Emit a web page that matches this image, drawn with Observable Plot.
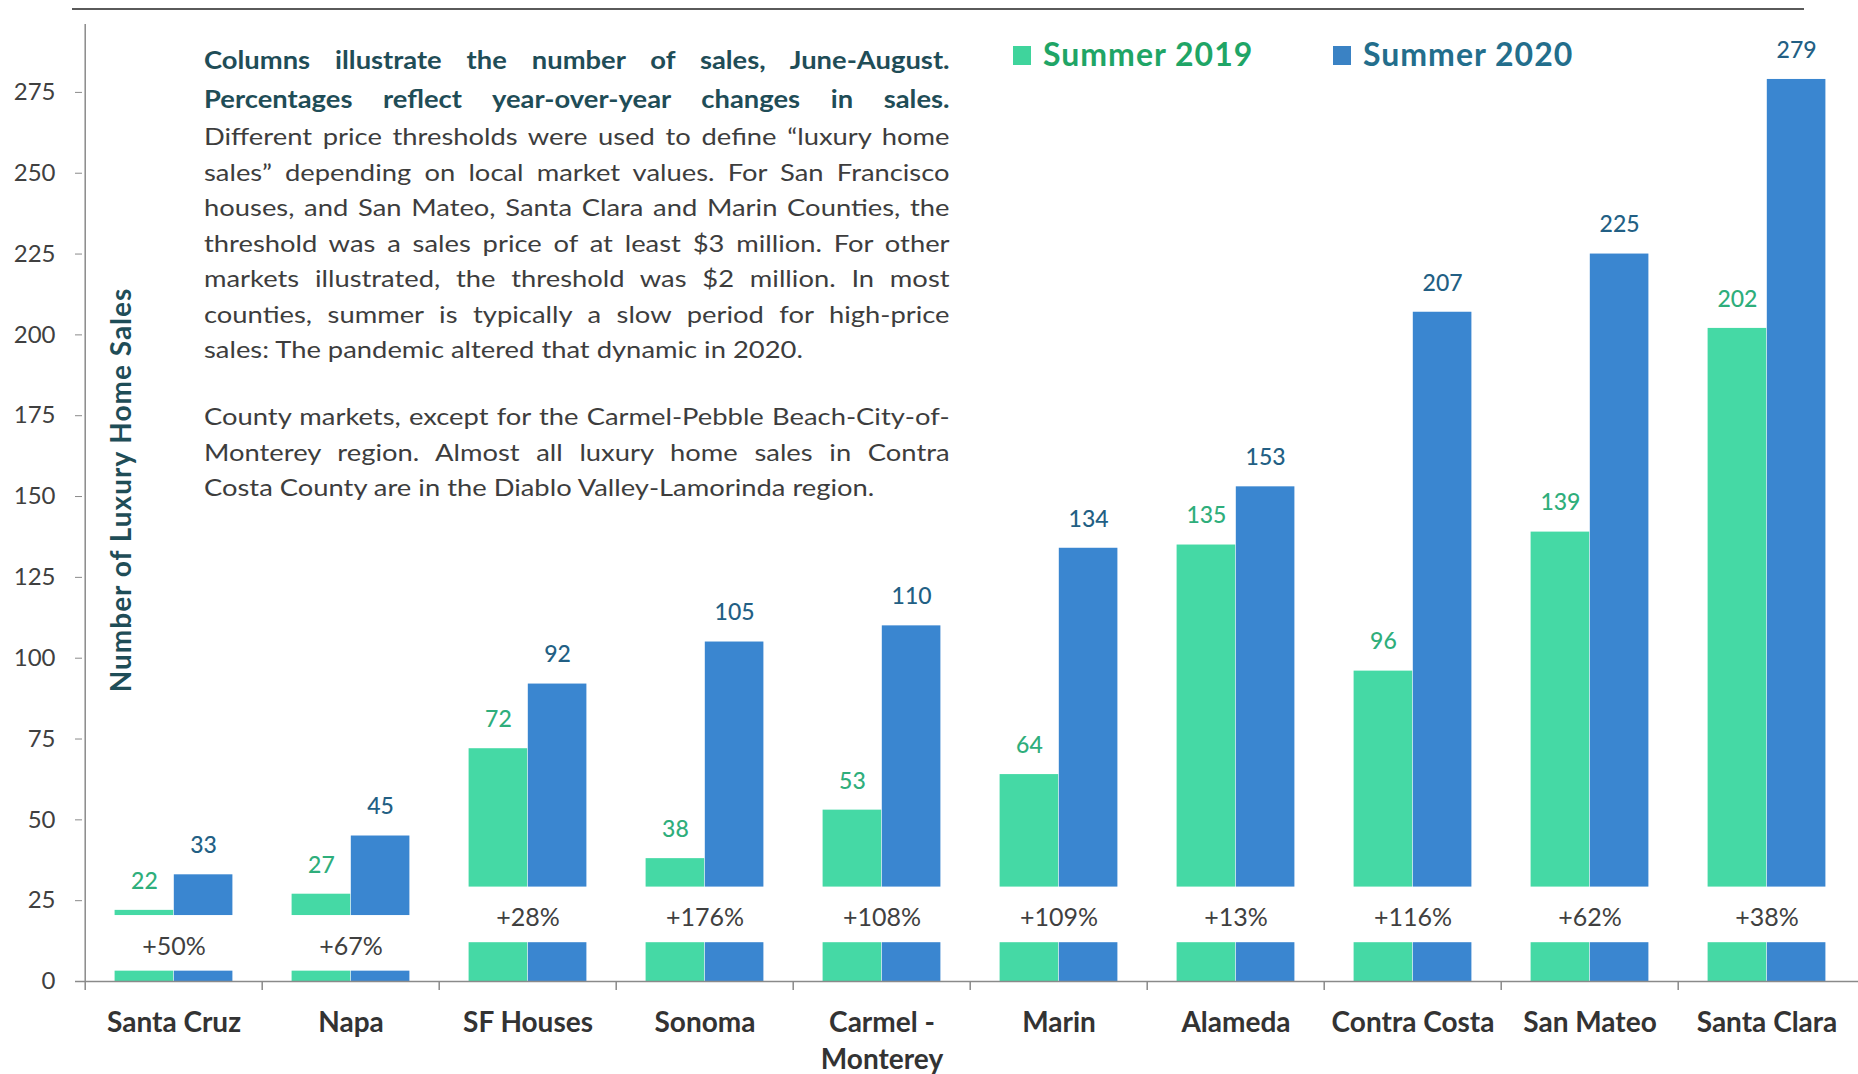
<!DOCTYPE html>
<html>
<head>
<meta charset="utf-8">
<script src="https://cdn.jsdelivr.net/npm/d3@7"></script>
<script src="https://cdn.jsdelivr.net/npm/@observablehq/plot@0.6"></script>
<style>
  body { margin: 0; background: #fff; font-family: Lato, "Open Sans", sans-serif; }
  #wrap { position: relative; width: 1858px; height: 1074px; overflow: hidden; background: #fff; }
  #chart { position: absolute; left: 0; top: 0; }
  .topline { position: absolute; left: 72px; top: 8px; width: 1732px; height: 0; border-top: 2px solid #5a5a5a; }
  .note { position: absolute; left: 204px; top: 40px; width: 654px; font-size: 24px; color: #3d3d3d;
          transform: scaleX(1.14); transform-origin: 0 0; }
  .note div { white-space: nowrap; text-align: justify; text-align-last: justify; line-height: 35.5px; height: 35.5px; }
  .note div.b { font-weight: 700; color: #1f4d57; line-height: 39px; height: 39px; }
  .note div.last { text-align-last: left; }
  .note div.gap { height: 31.75px; }
  .legend { position: absolute; top: 34px; font-size: 32px; font-weight: 700; line-height: 40px; letter-spacing: 1px; white-space: nowrap; }
  .legend .sw { position: absolute; top: 12px; width: 18px; height: 19px; }
  .ytitle { position: absolute; left: 120px; top: 490px; transform: translate(-50%, -50%) rotate(-90deg);
            font-size: 28px; font-weight: 700; color: #1f4d57; letter-spacing: 1px; white-space: nowrap; }
</style>
</head>
<body>
<div id="wrap"></div>
<script>
// ---- data ----
const categories = ["Santa Cruz", "Napa", "SF Houses", "Sonoma", "Carmel - Monterey", "Marin", "Alameda", "Contra Costa", "San Mateo", "Santa Clara"];
const sales2019 = [22, 27, 72, 38, 53, 64, 135, 96, 139, 202];
const sales2020 = [33, 45, 92, 105, 110, 134, 153, 207, 225, 279];
const pctChange = ["+50%", "+67%", "+28%", "+176%", "+108%", "+109%", "+13%", "+116%", "+62%", "+38%"];
// visual break in the columns where the percentage label sits
const breakLow  = [3.2, 3.2, 12, 12, 12, 12, 12, 12, 12, 12];
const breakHigh = [20.4, 20.4, 29.2, 29.2, 29.2, 29.2, 29.2, 29.2, 29.2, 29.2];
const pctLabelAt = [10.8, 10.8, 19.5, 19.5, 19.5, 19.5, 19.5, 19.5, 19.5, 19.5];
const yTicks = [0, 25, 50, 75, 100, 125, 150, 175, 200, 225, 250, 275];
const seriesNames = ["Summer 2019", "Summer 2020"];
const yTitle = "Number of Luxury Home Sales";
const noteBoldLines = [
  "Columns illustrate the number of sales, June-August.",
  "Percentages reflect year-over-year changes in sales."
];
const notePara1 = [
  "Different price thresholds were used to define \u201cluxury home",
  "sales\u201d depending on local market values. For San Francisco",
  "houses, and San Mateo, Santa Clara and Marin Counties, the",
  "threshold was a sales price of at least $3 million. For other",
  "markets illustrated, the threshold was $2 million. In most",
  "counties, summer is typically a slow period for high-price",
  "sales: The pandemic altered that dynamic in 2020."
];
const notePara2 = [
  "County markets, except for the Carmel-Pebble Beach-City-of-",
  "Monterey region. Almost all luxury home sales in Contra",
  "Costa County are in the Diablo Valley-Lamorinda region."
];

// ---- styles ----
const GREEN = "#45d9a5", BLUE = "#3a86d0";
const GREEN_TXT = "#2eae7b", BLUE_TXT = "#225f84";
const W = 1858, H = 1074, ML = 82, MR = 0, MT = 24, MB = 93;
const bw = (W - ML - MR) / categories.length;

const rows = categories.map((c, i) => ({
  cat: c, v19: sales2019[i], v20: sales2020[i], lo: breakLow[i], hi: breakHigh[i], pct: pctChange[i], py: pctLabelAt[i]
}));

const chart = Plot.plot({
  width: W, height: H,
  marginLeft: ML, marginRight: MR, marginTop: MT, marginBottom: MB,
  style: { fontFamily: "Lato, 'Open Sans', sans-serif", background: "transparent", overflow: "visible" },
  x: { domain: categories, padding: 0, axis: null },
  y: { domain: [0, 296] },
  marks: [
    // y axis line and ticks
    Plot.ruleX([categories[0]], { x: d => d, dx: -bw / 2, y1: 0, y2: 296, stroke: "#8a8a8a", strokeWidth: 1.5 }),
    Plot.axisY({ ticks: yTicks, tickSize: 7, tickPadding: 20, fontSize: 24, color: "#404040", stroke: "#8a8a8a", label: null }),
    // columns (lower stub, then upper part above the break)
    Plot.barY(rows, { x: "cat", y1: 0, y2: "lo", fill: GREEN, insetLeft: bw / 6, insetRight: bw / 2 }),
    Plot.barY(rows, { x: "cat", y1: "hi", y2: "v19", fill: GREEN, insetLeft: bw / 6, insetRight: bw / 2 }),
    Plot.barY(rows, { x: "cat", y1: 0, y2: "lo", fill: BLUE, insetLeft: bw / 2, insetRight: bw / 6 }),
    Plot.barY(rows, { x: "cat", y1: "hi", y2: "v20", fill: BLUE, insetLeft: bw / 2, insetRight: bw / 6 }),
    // x axis line and boundary ticks
    Plot.ruleY([0], { stroke: "#8a8a8a", strokeWidth: 1.5, insetLeft: -7 }),
    Plot.ruleX(categories, { x: d => d, dx: -bw / 2, y1: 0, y2: 0, insetBottom: -9, stroke: "#8a8a8a", strokeWidth: 1.5 }),
    // value labels
    Plot.text(rows, { x: "cat", y: "v19", text: d => String(d.v19), dx: -bw / 6, dy: -29, fill: GREEN_TXT, fontSize: 23, fontWeight: 500 }),
    Plot.text(rows, { x: "cat", y: "v20", text: d => String(d.v20), dx: bw / 6, dy: -29, fill: BLUE_TXT, fontSize: 23, fontWeight: 500 }),
    // percentage labels
    Plot.text(rows, { x: "cat", y: "py", text: "pct", fill: "#404040", fontSize: 25 }),
    // category labels
    Plot.text(categories, { x: d => d, y: () => 0, text: d => d.replace(" - ", " -\n"), dy: 25, lineAnchor: "top",
      lineHeight: 1.3, fontSize: 28, fontWeight: 700, fill: "#333333", style: "letter-spacing:0.8px" })
  ]
});
chart.id = "chart";

const wrap = document.getElementById("wrap");
wrap.appendChild(chart);

// top rule
const tl = document.createElement("div"); tl.className = "topline"; wrap.appendChild(tl);

// y title
const yt = document.createElement("div"); yt.className = "ytitle"; yt.textContent = yTitle; wrap.appendChild(yt);

// note
const note = document.createElement("div"); note.className = "note";
const addLine = (t, cls) => { const d = document.createElement("div"); if (cls) d.className = cls; d.textContent = t; note.appendChild(d); };
noteBoldLines.forEach(t => addLine(t, "b"));
notePara1.forEach((t, i) => addLine(t, i === notePara1.length - 1 ? "last" : ""));
addLine("", "gap");
notePara2.forEach((t, i) => addLine(t, i === notePara2.length - 1 ? "last" : ""));
wrap.appendChild(note);

// legend
const legendDefs = [
  { name: seriesNames[0], left: 1013, sw: "#3fd49c", txt: "#1fa566" },
  { name: seriesNames[1], left: 1333, sw: "#3a82c4", txt: "#236e8c" }
];
legendDefs.forEach(l => {
  const d = document.createElement("div"); d.className = "legend"; d.style.left = l.left + "px";
  const s = document.createElement("span"); s.className = "sw"; s.style.left = "0px"; s.style.background = l.sw;
  const t = document.createElement("span"); t.textContent = l.name; t.style.color = l.txt; t.style.marginLeft = "30px";
  d.appendChild(s); d.appendChild(t); wrap.appendChild(d);
});
</script>
</body>
</html>
